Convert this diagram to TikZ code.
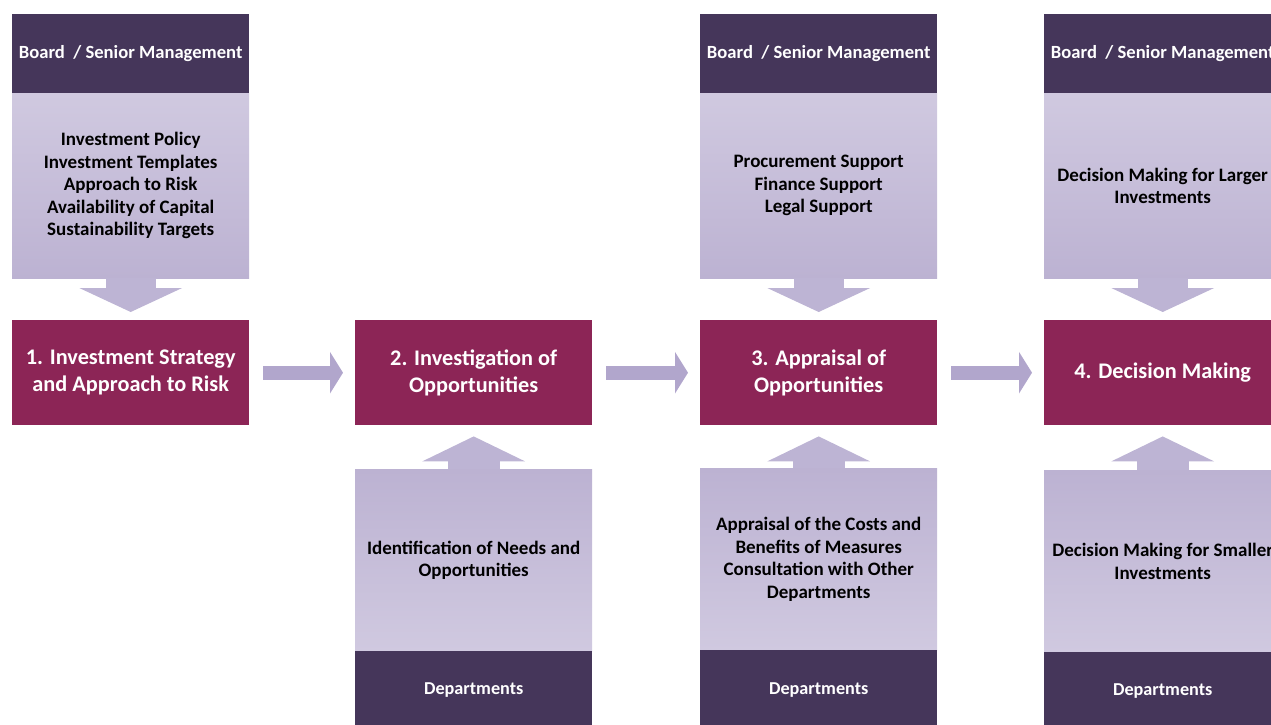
\documentclass[tikz,border=0pt]{standalone}
\usepackage{fontspec}
\setmainfont{Carlito}
\usetikzlibrary{arrows.meta}
\definecolor{hdr}{HTML}{45365A}
\definecolor{stagecol}{HTML}{8C2556}
\definecolor{paleA}{HTML}{D0C9E0}
\definecolor{paleB}{HTML}{BCB2D2}
\definecolor{flowcol}{HTML}{B1A6CC}
\definecolor{feedcol}{HTML}{BDB4D4}
\begin{document}
\begin{tikzpicture}[x=1pt,y=-1pt,
  box/.style={minimum width=237pt, inner sep=0pt, anchor=north west, align=center},
  header/.style={box, fill=hdr, text=white, minimum height=79pt,
    font=\bfseries\fontsize{18.6}{22}\selectfont},
  dept/.style={box, fill=hdr, text=white, font=\bfseries\fontsize{18.2}{22}\selectfont},
  topbody/.style={box, top color=paleA, bottom color=paleB, minimum height=185pt,
    font=\bfseries\fontsize{19}{22.5}\selectfont},
  lowbody/.style={box, top color=paleB, bottom color=paleA, minimum height=182pt,
    font=\bfseries\fontsize{19}{22.5}\selectfont},
  stagebox/.style={box, fill=stagecol, text=white, minimum height=105pt,
    font=\bfseries\fontsize{22.3}{27}\selectfont},
  flowarrow/.style={draw=flowcol, line width=14pt,
    -{Triangle[width=41pt,length=13pt]}, shorten <=14pt, shorten >=12pt},
  downarrow/.style={draw=feedcol, line width=50pt,
    -{Triangle[width=102pt,length=24pt]}, shorten >=8pt},
  uparrow/.style={draw=feedcol, line width=52pt,
    -{Triangle[width=102pt,length=25pt]}, shorten >=11pt},
]
\useasboundingbox (0,0) rectangle (1271,724);

% column 1
\node[header]  (h1) at (12,14) {Board\ \ / Senior Management};
\node[topbody] (t1) at (12,93) {Investment Policy\\Investment Templates\\Approach to Risk\\Availability of Capital\\Sustainability Targets};
\node[stagebox] (s1) at (12,320) {1. Investment Strategy\\and Approach to Risk};

% column 2
\node[stagebox] (s2) at (355,320) {2. Investigation of\\Opportunities};
\node[lowbody] (l2) at (355,469) {Identification of Needs and\\Opportunities};
\node[dept, minimum height=78pt] (d2) at (355,651) {Departments};

% column 3
\node[header]  (h3) at (700,14) {Board\ \ / Senior Management};
\node[topbody] (t3) at (700,93) {Procurement Support\\Finance Support\\Legal Support};
\node[stagebox] (s3) at (700,320) {3. Appraisal of\\Opportunities};
\node[lowbody] (l3) at (700,468) {Appraisal of the Costs and\\Benefits of Measures\\Consultation with Other\\Departments};
\node[dept, minimum height=80pt] (d3) at (700,650) {Departments};

% column 4
\node[header]  (h4) at (1044,14) {Board\ \ / Senior Management};
\node[topbody] (t4) at (1044,93) {Decision Making for Larger\\Investments};
\node[stagebox] (s4) at (1044,320) {4. Decision Making};
\node[lowbody] (l4) at (1044,470) {Decision Making for Smaller\\Investments};
\node[dept, minimum height=78pt] (d4) at (1044,652) {Departments};

% process flow
\draw[flowarrow] (s1.east) -- (s2.west);
\draw[flowarrow] (s2.east) -- (s3.west);
\draw[flowarrow] (s3.east) -- (s4.west);

% inputs from above and below
\draw[downarrow] (t1.south) -- (s1.north);
\draw[downarrow] (t3.south) -- (s3.north);
\draw[downarrow] (t4.south) -- (s4.north);
\draw[uparrow] (l2.north) -- (s2.south);
\draw[uparrow] (l3.north) -- (s3.south);
\draw[uparrow] (l4.north) -- (s4.south);
\end{tikzpicture}
\end{document}
